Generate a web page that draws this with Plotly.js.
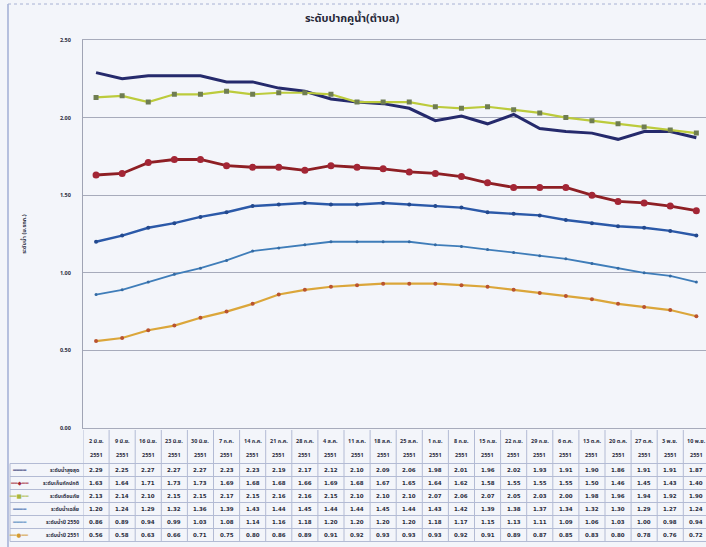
<!DOCTYPE html>
<html><head><meta charset="utf-8">
<script src="https://cdn.plot.ly/plotly-3.0.1.min.js"></script>
<style>html,body{margin:0;padding:0;overflow:hidden;background:#f3f5fa;width:706px;height:547px}</style>
</head><body><div id="chart" style="width:712px;height:547px"></div>
<script>
// ---- data ----
const categories = ['2 มิ.ย. 2551','9 มิ.ย. 2551','16 มิ.ย. 2551','23 มิ.ย. 2551','30 มิ.ย. 2551','7 ก.ค. 2551','14 ก.ค. 2551','21 ก.ค. 2551','28 ก.ค. 2551','4 ส.ค. 2551','11 ส.ค. 2551','18 ส.ค. 2551','25 ส.ค. 2551','1 ก.ย. 2551','8 ก.ย. 2551','15 ก.ย. 2551','22 ก.ย. 2551','29 ก.ย. 2551','6 ต.ค. 2551','13 ต.ค. 2551','20 ต.ค. 2551','27 ต.ค. 2551','3 พ.ย. 2551','10 พ.ย. 2551'];
const seriesNames = ['ระดับน้ำสูงสุด','ระดับเก็บกักปกติ','ระดับเตือนภัย','ระดับน้ำเฉลี่ย','ระดับน้ำปี 2550','ระดับน้ำปี 2551'];
const sNavy   = [2.29,2.25,2.27,2.27,2.27,2.23,2.23,2.19,2.17,2.12,2.10,2.09,2.06,1.98,2.01,1.96,2.02,1.93,1.91,1.90,1.86,1.91,1.91,1.87];
const sRed    = [1.63,1.64,1.71,1.73,1.73,1.69,1.68,1.68,1.66,1.69,1.68,1.67,1.65,1.64,1.62,1.58,1.55,1.55,1.55,1.50,1.46,1.45,1.43,1.40];
const sGreen  = [2.13,2.14,2.10,2.15,2.15,2.17,2.15,2.16,2.16,2.15,2.10,2.10,2.10,2.07,2.06,2.07,2.05,2.03,2.00,1.98,1.96,1.94,1.92,1.90];
const sBlue   = [1.20,1.24,1.29,1.32,1.36,1.39,1.43,1.44,1.45,1.44,1.44,1.45,1.44,1.43,1.42,1.39,1.38,1.37,1.34,1.32,1.30,1.29,1.27,1.24];
const sLight  = [0.86,0.89,0.94,0.99,1.03,1.08,1.14,1.16,1.18,1.20,1.20,1.20,1.20,1.18,1.17,1.15,1.13,1.11,1.09,1.06,1.03,1.00,0.98,0.94];
const sOrange = [0.56,0.58,0.63,0.66,0.71,0.75,0.80,0.86,0.89,0.91,0.92,0.93,0.93,0.93,0.92,0.91,0.89,0.87,0.85,0.83,0.80,0.78,0.76,0.72];
const yTicks = [0, 0.5, 1.0, 1.5, 2.0, 2.5];
const chartTitle = 'ระดับปากคูน้ำ(ตำบล)';
const yTitle = 'ระดับน้ำ (ม.รทก.)';

// ---- styling ----
const W = 712, H = 547;
const px = v => v / W, py = v => 1 - v / H;
const FONT = '"Noto Sans Thai", "Noto Sans", "DejaVu Sans", sans-serif';
const TXT = '#2b2d3e', GRIDC = '#b3bbd4';
const allSeries = [sNavy, sRed, sGreen, sBlue, sLight, sOrange];
const styles = [
  {line:{color:'#252a6c', width:3}, marker:{color:'#252a6c', size:2}, mode:'lines', key:'━━━━', keyColor:'#252a6c'},
  {line:{color:'#8e1f24', width:2.8}, marker:{color:'#a32635', size:7, symbol:'circle'}, mode:'lines+markers', key:'━━◆━━', keyColor:'#a32635'},
  {line:{color:'#bccb3c', width:2.2}, marker:{color:'#6f7d52', size:5, symbol:'square'}, mode:'lines+markers', key:'━━■━━', keyColor:'#a9b83c'},
  {line:{color:'#2b59a8', width:2.4}, marker:{color:'#23498e', size:4}, mode:'lines+markers', key:'━━━━', keyColor:'#2b59a8'},
  {line:{color:'#3f7db9', width:1.8}, marker:{color:'#346aa3', size:3}, mode:'lines+markers', key:'━━━━', keyColor:'#3f7db9'},
  {line:{color:'#dba63a', width:2.2}, marker:{color:'#b9532f', size:4}, mode:'lines+markers', key:'━━●━━', keyColor:'#d39a33'}
];

const traces = allSeries.map((s, k) => ({
  type:'scatter', x:categories, y:s, name:seriesNames[k], showlegend:false, hoverinfo:'skip',
  mode:styles[k].mode, line:styles[k].line, marker:styles[k].marker
}));

// ---- data table (built from the arrays) ----
const tableTop = 430, headerBottom = 463.5, rowH = 13, tableBottom = headerBottom + rowH * allSeries.length;
const annotations = [], shapes = [];
categories.forEach(c => {
  const cut = c.lastIndexOf(' ');
  annotations.push({xref:'x', yref:'paper', x:c, y:py(441), text:'<b>' + c.slice(0, cut) + '</b>',
    showarrow:false, xanchor:'center', yanchor:'middle', font:{family:FONT, size:5.5, color:TXT}});
  annotations.push({xref:'x', yref:'paper', x:c, y:py(455), text:'<b>' + c.slice(cut + 1) + '</b>',
    showarrow:false, xanchor:'center', yanchor:'middle', font:{family:FONT, size:5.5, color:TXT}});
});
allSeries.forEach((s, k) => {
  const yc = py(headerBottom + rowH * k + rowH / 2);
  annotations.push({xref:'paper', yref:'paper', x:px(19), y:yc, text:styles[k].key, showarrow:false,
    xanchor:'center', yanchor:'middle', font:{family:'DejaVu Sans', size:5.5, color:styles[k].keyColor}});
  annotations.push({xref:'paper', yref:'paper', x:px(81), y:yc, text:'<b>' + seriesNames[k] + '</b>', showarrow:false,
    xanchor:'right', yanchor:'middle', font:{family:FONT, size:5.2, color:TXT}});
  s.forEach((v, i) => annotations.push({xref:'x', yref:'paper', x:categories[i], y:yc,
    text:'<b>' + v.toFixed(2) + '</b>', showarrow:false, xanchor:'center', yanchor:'middle',
    font:{family:'DejaVu Sans', size:5.5, color:TXT}}));
});
for (let j = 0; j <= categories.length; j++) {
  shapes.push({type:'line', xref:'x', yref:'paper', x0:j - 0.5, x1:j - 0.5, y0:py(tableTop), y1:py(tableBottom),
    line:{color:GRIDC, width:1}});
}
shapes.push({type:'line', xref:'paper', yref:'paper', x0:px(10), x1:px(10), y0:py(headerBottom), y1:py(tableBottom), line:{color:GRIDC, width:1}});
for (let r = 0; r <= allSeries.length; r++) {
  const yy = py(headerBottom + rowH * r);
  shapes.push({type:'line', xref:'paper', yref:'paper', x0:px(10), x1:1, y0:yy, y1:yy, line:{color:GRIDC, width:1}});
}
// outer frame of the photographed chart area
shapes.push({type:'line', xref:'paper', yref:'paper', x0:px(8), x1:px(8), y0:0, y1:py(4), line:{color:'#8d9ccc', width:1.2}});
shapes.push({type:'line', xref:'paper', yref:'paper', x0:px(8), x1:1, y0:py(4), y1:py(4), line:{color:'#a8b2d4', width:1, dash:'dot'}});

const layout = {
  width:W, height:H,
  margin:{l:0, r:0, t:0, b:0},
  paper_bgcolor:'#f3f5fa', plot_bgcolor:'#f3f5fa',
  font:{family:FONT, color:TXT},
  title:{text:'<b>' + chartTitle + '</b>', x:px(352), xanchor:'center', y:py(18), yanchor:'middle', xref:'paper', yref:'paper',
    font:{family:FONT, size:11, color:'#262838'}},
  xaxis:{domain:[px(83), px(709.4)], type:'category', range:[-0.5, 23.5], showticklabels:false, ticks:'',
    showgrid:false, zeroline:false, showline:true, mirror:true, linecolor:'#a7abbb', linewidth:1},
  yaxis:{domain:[py(428), py(40)], range:[0, 2.5], tickvals:yTicks, tickformat:'.2f',
    showgrid:true, gridcolor:'#a7abbb', gridwidth:1, zeroline:false,
    showline:true, linecolor:'#a0a4b4', linewidth:1, ticks:'', ticklabelstandoff:10,
    tickfont:{family:FONT, size:5.5, color:TXT, weight:'bold'},
    title:{text:'<b>' + yTitle + '</b>', standoff:32, font:{family:FONT, size:5.5, color:TXT}}},
  shapes:shapes,
  annotations:annotations
};

Plotly.newPlot('chart', traces, layout, {staticPlot:true, displayModeBar:false});
</script></body></html>
